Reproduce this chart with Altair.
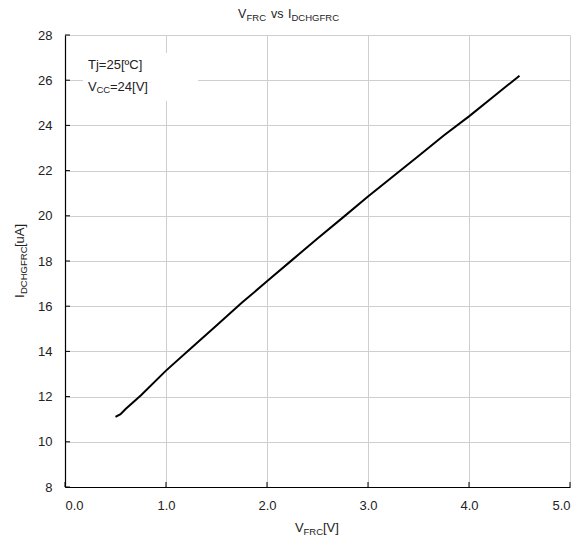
import altair as alt
import pandas as pd

# Data
v_frc = [0.5, 0.55, 0.6, 0.75, 1.0, 1.25, 1.5, 1.75, 2.0, 2.25, 2.5, 2.75,
         3.0, 3.25, 3.5, 3.75, 4.0, 4.25, 4.5]
i_dchgfrc = [11.10, 11.22, 11.45, 12.05, 13.15, 14.15, 15.15, 16.15, 17.10, 18.05,
             19.00, 19.92, 20.85, 21.75, 22.65, 23.55, 24.40, 25.30, 26.20]
x_ticks = [0.0, 1.0, 2.0, 3.0, 4.0, 5.0]
y_ticks = [8, 10, 12, 14, 16, 18, 20, 22, 24, 26, 28]

FONT = "Liberation Sans"
W, H = 505, 452

xs = alt.Scale(domain=[0, 5], nice=False, zero=False)
ys = alt.Scale(domain=[8, 28], nice=False, zero=False)

x_axis = alt.Axis(values=x_ticks, format=".1f", title=None,
                  grid=True, gridColor="#cfcfcf", ticks=False,
                  domainColor="#000000", domainWidth=1.2,
                  labelFont=FONT, labelFontSize=13, labelColor="#222222",
                  labelPadding=12)
y_axis = alt.Axis(values=y_ticks, format="d", title=None,
                  grid=True, gridColor="#cfcfcf", ticks=False,
                  domainColor="#000000", domainWidth=1.2,
                  labelFont=FONT, labelFontSize=13, labelColor="#222222",
                  labelPadding=13)

df = pd.DataFrame({"v": v_frc, "i": i_dchgfrc})

box = alt.Chart(alt.Data(values=[{}])).mark_rect(fill="white").encode(
    x=alt.value(18), x2=alt.value(133), y=alt.value(18), y2=alt.value(66)
)

line = alt.Chart(df).mark_line(color="black", strokeWidth=2).encode(
    x=alt.X("v:Q", scale=xs, axis=x_axis),
    y=alt.Y("i:Q", scale=ys, axis=y_axis),
    order="v:Q",
)

yt = alt.Chart(pd.DataFrame({"v": [0] * len(y_ticks), "i": y_ticks})).mark_rule(
    color="#000000", strokeWidth=1).encode(
    y=alt.Y("i:Q", scale=ys, axis=y_axis), x=alt.value(0), x2=alt.value(5)
)
xt = alt.Chart(pd.DataFrame({"v": x_ticks})).mark_rule(color="#000000", strokeWidth=1).encode(
    x=alt.X("v:Q", scale=xs, axis=x_axis), y=alt.value(H), y2=alt.value(H - 5)
)


def label(txt, x, y, size=13, angle=0):
    mk = dict(text=txt, font=FONT, fontSize=size, color="#222222", align="left",
              baseline="alphabetic")
    if angle:
        mk["angle"] = angle
    return alt.Chart(alt.Data(values=[{}])).mark_text(**mk).encode(
        x=alt.value(x), y=alt.value(y))


texts = [
    # title
    label("V", 173, -17, 12.5),
    label("FRC", 181.5, -14.5, 9.5),
    label("vs", 206, -17, 12.5),
    label("I", 223, -17, 12.5),
    label("DCHGFRC", 226.5, -14.5, 9.5),
    # x title
    label("V", 230, 497, 13),
    label("FRC", 238.5, 499.5, 9.5),
    label("[V]", 258, 497, 13),
    # y title (rotated)
    label("I", -41, 263, 13, 270),
    label("DCHGFRC", -38.5, 259, 9.5, 270),
    label("[uA]", -41, 212, 13, 270),
    # annotation
    label("Tj=25[ºC]", 23, 34, 13),
    label("V", 23, 55.5, 13),
    label("CC", 31.5, 58, 9.5),
    label("=24[V]", 45, 55.5, 13),
]

chart = alt.layer(box, line, yt, xt, *texts).properties(
    width=W, height=H, autosize="none",
    padding={"left": 57, "top": 27, "right": 10, "bottom": 50},
).configure_view(stroke=None)

chart.save("out.html", embed_options={"renderer": "svg", "actions": False})
